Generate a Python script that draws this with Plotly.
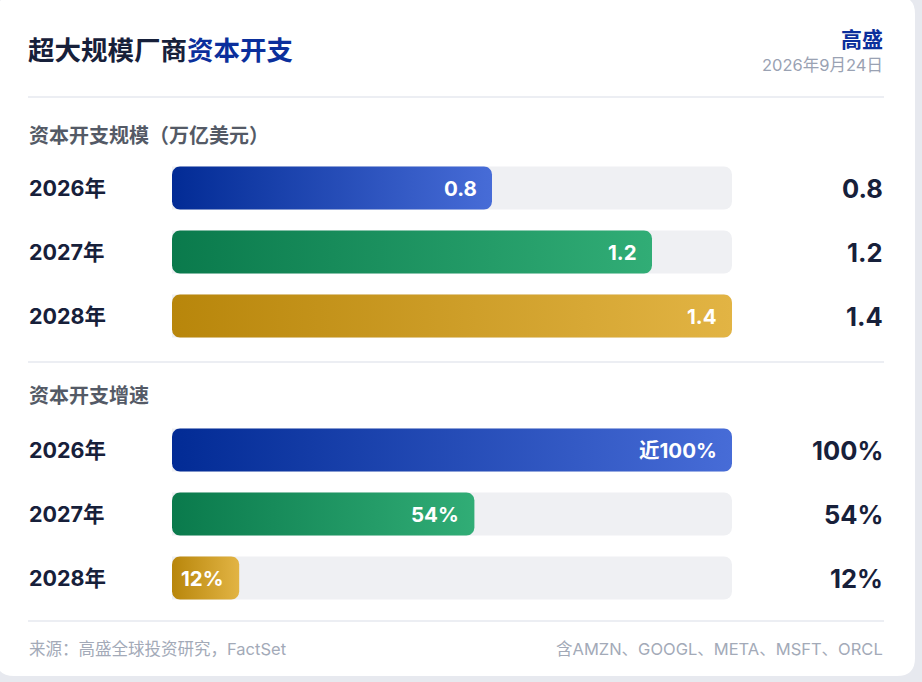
import math
import plotly.graph_objects as go

# data
years = ["2026年", "2027年", "2028年"]
capex = [0.8, 1.2, 1.4]              # 万亿美元
capex_labels = ["0.8", "1.2", "1.4"]
growth = [100, 54, 12]               # %
growth_inner = ["近100%", "54%", "12%"]
growth_right = ["100%", "54%", "12%"]

title_dark = "超大规模厂商"
title_blue = "资本开支"
brand = "高盛"
date_text = "2026年9月24日"
section1 = "资本开支规模（万亿美元）"
section2 = "资本开支增速"
source = "来源：高盛全球投资研究，FactSet"
note = "含AMZN、GOOGL、META、MSFT、ORCL"

gradients = [("#022b95", "#476cd7"), ("#0a7a4c", "#31ad76"), ("#b8860b", "#e2b444")]

W, H = 922, 682
FONT = "Inter, 'Noto Sans CJK SC', sans-serif"
DARK = "#17203a"
TRACK = "#eff0f3"


def fx(x):
    return x / W


def fy(y):
    return 1 - y / H


def rounded_bar(x1, yc, hh, rx, ry, n=8):
    rx = min(rx, x1 / 2)
    xs, ys = [], []
    corners = [(x1 - rx, yc + hh - ry, 0), (rx, yc + hh - ry, 90),
               (rx, yc - hh + ry, 180), (x1 - rx, yc - hh + ry, 270)]
    for cx, cy, a0 in corners:
        for k in range(n + 1):
            t = math.radians(a0 + 90 * k / n)
            xs.append(cx + rx * math.cos(t))
            ys.append(cy + ry * math.sin(t))
    xs.append(xs[0])
    ys.append(ys[0])
    return xs, ys


fig = go.Figure()

# bar geometry in pixels -> converted to axis units
track_px = 560
row_px = 64
bar_px = 43
radius_px = 8

sections = [
    dict(vals=capex, inner=capex_labels, right=capex_labels, xa="x", ya="y", top=156, head=section1, head_y=136),
    dict(vals=growth, inner=growth_inner, right=growth_right, xa="x2", ya="y2", top=418, head=section2, head_y=396),
]

annotations = []
for s in sections:
    vmax = max(s["vals"])
    ux = vmax / track_px
    uy = 1 / row_px
    fig.add_trace(go.Bar(
        x=[vmax] * len(years), y=list(range(len(years))), orientation="h",
        width=bar_px * uy, marker=dict(color=TRACK, cornerradius=radius_px, line=dict(width=0)),
        xaxis=s["xa"], yaxis=s["ya"], hoverinfo="skip", showlegend=False,
    ))
    for i, v in enumerate(s["vals"]):
        xs, ys = rounded_bar(v, i, bar_px * uy / 2, radius_px * ux, radius_px * uy)
        c0, c1 = gradients[i]
        fig.add_trace(go.Scatter(
            x=xs, y=ys, mode="lines", fill="toself", line=dict(width=0, color=c0),
            fillgradient=dict(type="horizontal", colorscale=[[0, c0], [1, c1]]),
            xaxis=s["xa"], yaxis=s["ya"], hoverinfo="skip", showlegend=False,
        ))
        annotations.append(dict(
            x=v, y=i, xref=s["xa"], yref=s["ya"], xanchor="right", xshift=-13,
            text=s["inner"][i], showarrow=False,
            font=dict(family=FONT, size=20.5, color="white", weight=700),
        ))
        annotations.append(dict(
            x=fx(27), y=i, xref="paper", yref=s["ya"], xanchor="left",
            text=years[i], showarrow=False,
            font=dict(family=FONT, size=21.5, color=DARK, weight=700),
        ))
        annotations.append(dict(
            x=fx(885), y=i, xref="paper", yref=s["ya"], xanchor="right",
            text=s["right"][i], showarrow=False,
            font=dict(family=FONT, size=25.5, color=DARK, weight=700),
        ))
    annotations.append(dict(
        x=fx(27), y=fy(s["head_y"]), xref="paper", yref="paper", xanchor="left", yanchor="middle",
        text=s["head"], showarrow=False,
        font=dict(family=FONT, size=20, color="#545a66", weight=700),
    ))

annotations += [
    dict(x=fx(26), y=fy(50), xref="paper", yref="paper", xanchor="left", yanchor="middle",
         text=title_dark + "<span style='color:#0b2f9c'>" + title_blue + "</span>", showarrow=False,
         font=dict(family=FONT, size=26.5, color=DARK, weight=700)),
    dict(x=fx(885), y=fy(40), xref="paper", yref="paper", xanchor="right", yanchor="middle",
         text=brand, showarrow=False, font=dict(family=FONT, size=21, color="#0b2f9c", weight=700)),
    dict(x=fx(885), y=fy(65), xref="paper", yref="paper", xanchor="right", yanchor="middle",
         text=date_text, showarrow=False, font=dict(family=FONT, size=16.5, color="#9aa2b3")),
    dict(x=fx(27), y=fy(649), xref="paper", yref="paper", xanchor="left", yanchor="middle",
         text=source, showarrow=False, font=dict(family=FONT, size=16.5, color="#a3aab8")),
    dict(x=fx(885), y=fy(649), xref="paper", yref="paper", xanchor="right", yanchor="middle",
         text=note, showarrow=False, font=dict(family=FONT, size=16.5, color="#a3aab8")),
]

# card with rounded corners (paper coords)
x0, y0, x1, y1, r = -4, -4, 915, 676, 18
card = (f"M {fx(x0 + r)},{fy(y0)} L {fx(x1 - r)},{fy(y0)} Q {fx(x1)},{fy(y0)} {fx(x1)},{fy(y0 + r)} "
        f"L {fx(x1)},{fy(y1 - r)} Q {fx(x1)},{fy(y1)} {fx(x1 - r)},{fy(y1)} "
        f"L {fx(x0 + r)},{fy(y1)} Q {fx(x0)},{fy(y1)} {fx(x0)},{fy(y1 - r)} "
        f"L {fx(x0)},{fy(y0 + r)} Q {fx(x0)},{fy(y0)} {fx(x0 + r)},{fy(y0)} Z")
shapes = [dict(type="path", path=card, xref="paper", yref="paper", fillcolor="white",
               line=dict(width=0), layer="below")]
for ly in [97, 362, 621]:
    shapes.append(dict(type="line", xref="paper", yref="paper", x0=fx(28), x1=fx(884),
                       y0=fy(ly), y1=fy(ly), line=dict(color="#eceef3", width=2), layer="below"))

axis_common = dict(visible=False, fixedrange=True)
fig.update_layout(
    width=W, height=H, margin=dict(l=0, r=0, t=0, b=0),
    paper_bgcolor="#e7e9ef", plot_bgcolor="rgba(0,0,0,0)",
    barmode="overlay", showlegend=False,
    xaxis=dict(domain=[fx(172), fx(732)], range=[0, max(capex)], anchor="y", **axis_common),
    yaxis=dict(domain=[fy(348), fy(156)], range=[2.5, -0.5], anchor="x", **axis_common),
    xaxis2=dict(domain=[fx(172), fx(732)], range=[0, max(growth)], anchor="y2", **axis_common),
    yaxis2=dict(domain=[fy(610), fy(418)], range=[2.5, -0.5], anchor="x2", **axis_common),
    annotations=annotations, shapes=shapes,
)

fig.write_html("out.html", config={"displayModeBar": False},
               post_script="document.body.style.margin='0';")
